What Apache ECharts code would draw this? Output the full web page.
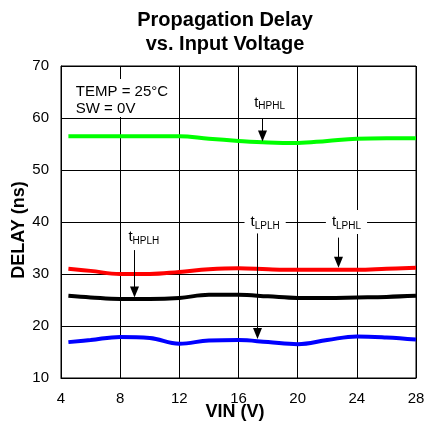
<!DOCTYPE html>
<html><head><meta charset="utf-8">
<script src="https://cdn.jsdelivr.net/npm/echarts@6/dist/echarts.min.js"></script>
<style>html,body{margin:0;padding:0;background:#fff}#c{width:427px;height:425px}</style>
</head><body><div id="c"></div>
<script>
const vin      = [4.5, 6, 8, 10, 12, 14, 16, 18, 20, 22, 24, 26, 28];
const tHPHL    = [56.5, 56.5, 56.5, 56.5, 56.5, 56.0, 55.6, 55.3, 55.2, 55.6, 56.0, 56.1, 56.1];
const tLPHL    = [31.0, 30.6, 30.0, 30.0, 30.4, 30.9, 31.1, 30.9, 30.8, 30.8, 30.8, 31.0, 31.2];
const tHPLH    = [25.8, 25.5, 25.2, 25.2, 25.4, 26.0, 26.0, 25.7, 25.4, 25.4, 25.5, 25.6, 25.8];
const tLPLH    = [16.9, 17.3, 17.9, 17.7, 16.6, 17.2, 17.3, 16.9, 16.5, 17.3, 18.0, 17.8, 17.4];
const xTicks = [4, 8, 12, 16, 20, 24, 28];
const yTicks = [10, 20, 30, 40, 50, 60, 70];
const FONT = '"Liberation Sans", Arial, sans-serif';

function pairs(ys){ return vin.map((x,i)=>[x, ys[i]]); }
const chart = echarts.init(document.getElementById('c'));
const seriesDefs = [
  {name:'tHPHL', data:tHPHL, color:'#00ff00'},
  {name:'tLPHL', data:tLPHL, color:'#ff0000'},
  {name:'tHPLH', data:tHPLH, color:'#000000'},
  {name:'tLPLH', data:tLPLH, color:'#0000ff'}
];
chart.setOption({
  animation:false,
  title:{text:'Propagation Delay\nvs. Input Voltage', left:220, top:3, textAlign:'center',
    textStyle:{fontFamily:FONT, fontWeight:'bold', fontSize:20, lineHeight:24, color:'#000'}},
  grid:{left:61, right:11, top:66, bottom:47, show:true, borderColor:'#000', borderWidth:1,
    containLabel:false, outerBoundsMode:'none'},
  xAxis:{type:'value', min:xTicks[0], max:xTicks[xTicks.length-1], interval:4,
    name:'VIN (V)', nameLocation:'middle', nameGap:25, nameMoveOverlap:false,
    nameTextStyle:{fontFamily:FONT, fontWeight:'bold', fontSize:18, color:'#000', padding:[0,7,0,0]},
    axisLine:{lineStyle:{color:'#000', width:1}}, axisTick:{show:false},
    axisLabel:{fontFamily:FONT, fontSize:15, color:'#000', margin:13},
    splitLine:{show:true, lineStyle:{color:'#000', width:1}}},
  yAxis:{type:'value', min:yTicks[0], max:yTicks[yTicks.length-1], interval:10,
    name:'DELAY (ns)', nameLocation:'middle', nameGap:33, nameMoveOverlap:false,
    nameTextStyle:{fontFamily:FONT, fontWeight:'bold', fontSize:18, color:'#000', padding:[0,16,0,0]},
    axisLine:{lineStyle:{color:'#000', width:1}}, axisTick:{show:false},
    axisLabel:{fontFamily:FONT, fontSize:15, color:'#000', margin:12},
    splitLine:{show:true, lineStyle:{color:'#000', width:1}}},
  series: seriesDefs.map(s=>({type:'line', name:s.name, data:pairs(s.data), smooth:0.4,
    symbol:'none', lineStyle:{color:s.color, width:4}, z:3}))
});

// annotations in data coordinates
const notes = [
  {sub:'HPHL', lx:18.1, ly:63.0, ax:17.6, y1:59.9, y2:55.5, bg:false},
  {sub:'HPLH', lx:9.6,  ly:37.1, ax:8.95, y1:34.6, y2:25.5, bg:false},
  {sub:'LPLH', lx:17.8, ly:40.0, ax:17.25, y1:37.8, y2:17.5, bg:true},
  {sub:'LPHL', lx:23.3, ly:40.0, ax:22.75, y1:37.0, y2:31.2, bg:true}
];
const P = (x,y)=>chart.convertToPixel({gridIndex:0}, [x,y]);
const g = [];
const b0 = P(4, 67.5), b1 = P(12, 60);
g.push({type:'rect', shape:{x:b0[0]+1, y:b0[1], width:b1[0]-b0[0]-2, height:b1[1]-b0[1]-1},
  style:{fill:'#fff'}, z:10});
const t0 = P(5.0, 65.0), t1 = P(5.0, 61.85);
g.push({type:'text', x:t0[0], y:t0[1], style:{text:'TEMP = 25°C', fontFamily:FONT, fontSize:15, fill:'#000', verticalAlign:'middle'}, z:11});
g.push({type:'text', x:t1[0], y:t1[1], style:{text:'SW = 0V', fontFamily:FONT, fontSize:15, fill:'#000', verticalAlign:'middle'}, z:11});
notes.forEach(n=>{
  const lp = P(n.lx, n.ly);
  g.push({type:'text', x:lp[0], y:lp[1], z:11, style:{
    text:'{t|t}{s|'+n.sub+'}', align:'center', verticalAlign:'middle',
    backgroundColor: n.bg ? '#fff' : 'transparent', padding: n.bg ? [3,6,3,6] : 0,
    rich:{t:{fontFamily:FONT, fontSize:15, fill:'#000', lineHeight:18},
          s:{fontFamily:FONT, fontSize:10, fill:'#000', lineHeight:18, verticalAlign:'bottom', padding:[6,0,0,0]}}}});
  const a1 = P(n.ax, n.y1), a2 = P(n.ax, n.y2);
  const x = Math.round(a1[0]) + 0.5;
  g.push({type:'line', z:11, shape:{x1:x, y1:a1[1], x2:x, y2:a2[1]-8}, style:{stroke:'#000', lineWidth:1}});
  g.push({type:'polygon', z:11, shape:{points:[[x-4.5, a2[1]-11],[x+4.5, a2[1]-11],[x, a2[1]]]}, style:{fill:'#000'}});
});
chart.setOption({graphic:g});
</script></body></html>
